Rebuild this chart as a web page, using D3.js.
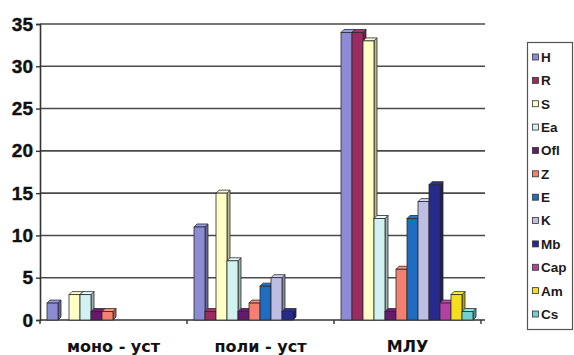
<!DOCTYPE html>
<html>
<head>
<meta charset="utf-8">
<script src="https://cdn.jsdelivr.net/npm/d3@7"></script>
<style>
  html, body { margin: 0; padding: 0; background: #fff; }
  svg { display: block; font-family: Arial, "Liberation Sans", sans-serif; }
</style>
</head>
<body>
<svg id="chart" width="574" height="355"></svg>
<script>
// Categories (groups on the x axis)
const categories = ["моно - уст", "поли - уст", "МЛУ"];
// Series names (legend order)
const seriesNames = ["H", "R", "S", "Ea", "Ofl", "Z", "E", "K", "Mb", "Cap", "Am", "Cs"];
// Values per series, one per category
const H   = [2, 11, 34];
const R   = [0, 1, 34];
const S   = [3, 15, 33];
const Ea  = [3, 7, 12];
const Ofl = [1, 1, 1];
const Z   = [1, 2, 6];
const E   = [0, 4, 12];
const K   = [0, 5, 14];
const Mb  = [0, 1, 16];
const Cap = [0, 0, 2];
const Am  = [0, 0, 3];
const Cs  = [0, 0, 1];
const seriesValues = [H, R, S, Ea, Ofl, Z, E, K, Mb, Cap, Am, Cs];
// Y axis tick labels
const yTicks = [0, 5, 10, 15, 20, 25, 30, 35];
// Series fill colours
const seriesColors = ["#8c8cd4", "#9b2c62", "#ffffc6", "#d2f2f2", "#651a6e", "#f5806f",
                      "#1f6cc0", "#bdbee2", "#262a8a", "#b242a2", "#f3df1e", "#72d0d0"];

const svg = d3.select("#chart");
const plotLeft = 40, plotRight = 481, plotTop = 24, plotBottom = 320;
const depth = 3; // 3D offset of the column tops/sides

const x0 = d3.scaleBand().domain(categories).range([plotLeft, plotRight]).paddingInner(0).paddingOuter(0);
const x1 = d3.scaleBand().domain(seriesNames).range([7, x0.bandwidth() - 8]).padding(0);
const y = d3.scaleLinear().domain([0, 35]).range([plotBottom, plotTop]);

// horizontal gridlines
svg.append("g").selectAll("line").data(yTicks.filter(t => t > 0)).join("line")
  .attr("x1", plotLeft).attr("x2", plotRight + 4)
  .attr("y1", d => y(d)).attr("y2", d => y(d))
  .attr("stroke", "#4a4a4a").attr("stroke-width", 1.6);

// y axis
const yAxis = svg.append("g").attr("transform", `translate(${plotLeft},0)`)
  .call(d3.axisLeft(y).tickValues(yTicks).tickSize(4).tickPadding(3));
yAxis.select(".domain").attr("stroke", "#333").attr("stroke-width", 1.6);
yAxis.selectAll(".tick line").attr("stroke", "#333").attr("stroke-width", 1.4);
yAxis.selectAll("text").attr("font-size", 19).attr("font-weight", "bold").attr("fill", "#111")
  .attr("stroke", "#111").attr("stroke-width", 0.4)
  .attr("font-family", "Arial, 'Liberation Sans', sans-serif");

// x axis
const xAxis = svg.append("g").attr("transform", `translate(0,${plotBottom})`)
  .call(d3.axisBottom(x0).tickSize(0).tickPadding(18));
xAxis.select(".domain").remove();
xAxis.append("line").attr("x1", plotLeft).attr("x2", plotRight + 4).attr("y1", 0).attr("y2", 0)
  .attr("stroke", "#333").attr("stroke-width", 1.6);
xAxis.selectAll(".sep").data([plotLeft, ...categories.map(c => x0(c) + x0.bandwidth())]).join("line")
  .attr("x1", d => d).attr("x2", d => d).attr("y1", 0).attr("y2", 4)
  .attr("stroke", "#333").attr("stroke-width", 1.4);
xAxis.selectAll(".tick text").attr("font-size", 16).attr("font-weight", "bold").attr("fill", "#111")
  .attr("dy", "0.85em").attr("font-family", "'DejaVu Sans', Verdana, sans-serif");

// columns with shallow 3D faces
const bars = [];
seriesNames.forEach((s, si) => {
  categories.forEach((c, ci) => {
    const v = seriesValues[si][ci];
    if (v > 0) bars.push({ s, c, v, color: seriesColors[si] });
  });
});
const gBars = svg.append("g");
bars.forEach(b => {
  const bx = x0(b.c) + x1(b.s), bw = x1.bandwidth();
  const by = y(b.v), bh = plotBottom - by;
  const g = gBars.append("g");
  const col = d3.color(b.color);
  // side face
  g.append("path")
    .attr("d", `M${bx + bw},${by} L${bx + bw + depth},${by - depth} L${bx + bw + depth},${plotBottom - depth} L${bx + bw},${plotBottom} Z`)
    .attr("fill", col.darker(0.9)).attr("stroke", "#2a2a2a").attr("stroke-width", 0.8);
  // top face
  g.append("path")
    .attr("d", `M${bx},${by} L${bx + depth},${by - depth} L${bx + bw + depth},${by - depth} L${bx + bw},${by} Z`)
    .attr("fill", col.brighter(0.3)).attr("stroke", "#2a2a2a").attr("stroke-width", 0.8);
  // front face
  g.append("rect").attr("x", bx).attr("y", by).attr("width", bw).attr("height", bh)
    .attr("fill", b.color).attr("stroke", "#2a2a2a").attr("stroke-width", 0.8);
});

// legend
const legend = svg.append("g");
legend.append("rect").attr("x", 527.5).attr("y", 42.5).attr("width", 45).attr("height", 287)
  .attr("fill", "#fff").attr("stroke", "#555").attr("stroke-width", 1.2);
const ly = d3.scalePoint().domain(seriesNames).range([57, 314]);
const items = legend.selectAll(".item").data(seriesNames).join("g")
  .attr("transform", d => `translate(0,${ly(d)})`);
items.append("rect").attr("x", 532.5).attr("y", -3).attr("width", 6).attr("height", 6)
  .attr("fill", (d, i) => seriesColors[i]).attr("stroke", "#333").attr("stroke-width", 0.8);
items.append("text").attr("x", 541).attr("y", 0).attr("dy", "0.36em")
  .attr("font-size", 13.5).attr("font-weight", "bold").attr("fill", "#1a1a1a")
  .text(d => d);
</script>
</body>
</html>
